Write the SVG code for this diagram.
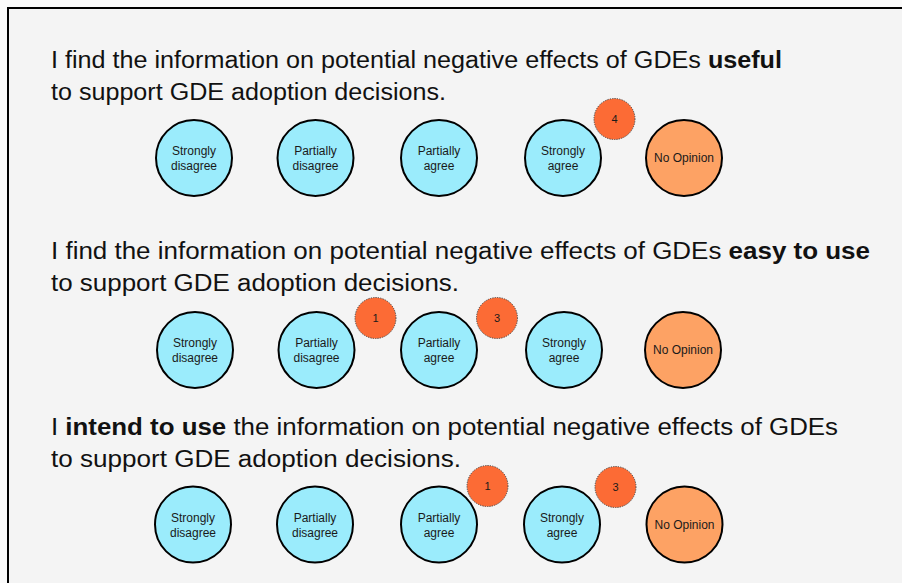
<svg xmlns="http://www.w3.org/2000/svg" width="902" height="583" viewBox="0 0 902 583">
<style>
.q{font-family:"Liberation Sans",Arial,sans-serif;font-size:23px;fill:#111}
.b{font-weight:bold}
.opt{fill:#9BECFC;stroke:#000;stroke-width:2}
.no{fill:#FDA264;stroke:#000;stroke-width:2}
.cnt{fill:#FC6B35;stroke:#444;stroke-width:1;stroke-dasharray:1.2 1.2}
.lbl{font-family:"Liberation Sans",Arial,sans-serif;font-size:12px;fill:#1a1a1a;text-anchor:middle}
.num{font-family:"Liberation Sans",Arial,sans-serif;font-size:11px;fill:#1a1a1a;text-anchor:middle}
</style>
<rect x="0" y="0" width="902" height="583" fill="#fafafa"/>
<rect x="8" y="8" width="900" height="590" fill="#f4f4f4" stroke="#000" stroke-width="2"/>

<g id="q1-text">
<text class="q" x="51" y="68" textLength="731" lengthAdjust="spacingAndGlyphs">I find the information on potential negative effects of GDEs <tspan class="b">useful</tspan></text>
<text class="q" x="51" y="100" textLength="395" lengthAdjust="spacingAndGlyphs">to support GDE adoption decisions.</text>
</g>
<g id="q1-strongly-disagree"><circle class="opt" cx="194" cy="158" r="38"/><text class="lbl" x="194" y="155">Strongly</text><text class="lbl" x="194" y="170">disagree</text></g>
<g id="q1-partially-disagree"><circle class="opt" cx="315.5" cy="158" r="38"/><text class="lbl" x="315.5" y="155">Partially</text><text class="lbl" x="315.5" y="170">disagree</text></g>
<g id="q1-partially-agree"><circle class="opt" cx="439" cy="158" r="38"/><text class="lbl" x="439" y="155">Partially</text><text class="lbl" x="439" y="170">agree</text></g>
<g id="q1-strongly-agree"><circle class="opt" cx="563" cy="158" r="38"/><text class="lbl" x="563" y="155">Strongly</text><text class="lbl" x="563" y="170">agree</text></g>
<g id="q1-no-opinion"><circle class="no" cx="684" cy="158" r="38"/><text class="lbl" x="684" y="162">No Opinion</text></g>
<g id="q1-count-4"><circle class="cnt" cx="614.5" cy="119" r="20.5"/><text class="num" x="614.5" y="123">4</text></g>

<g id="q2-text">
<text class="q" x="51" y="259" textLength="819" lengthAdjust="spacingAndGlyphs">I find the information on potential negative effects of GDEs <tspan class="b">easy to use</tspan></text>
<text class="q" x="51" y="291" textLength="408" lengthAdjust="spacingAndGlyphs">to support GDE adoption decisions.</text>
</g>
<g id="q2-strongly-disagree"><circle class="opt" cx="195" cy="350" r="38"/><text class="lbl" x="195" y="347">Strongly</text><text class="lbl" x="195" y="362">disagree</text></g>
<g id="q2-partially-disagree"><circle class="opt" cx="316.5" cy="350" r="38"/><text class="lbl" x="316.5" y="347">Partially</text><text class="lbl" x="316.5" y="362">disagree</text></g>
<g id="q2-partially-agree"><circle class="opt" cx="439" cy="350" r="38"/><text class="lbl" x="439" y="347">Partially</text><text class="lbl" x="439" y="362">agree</text></g>
<g id="q2-strongly-agree"><circle class="opt" cx="564" cy="350" r="38"/><text class="lbl" x="564" y="347">Strongly</text><text class="lbl" x="564" y="362">agree</text></g>
<g id="q2-no-opinion"><circle class="no" cx="683" cy="350" r="38"/><text class="lbl" x="683" y="354">No Opinion</text></g>
<g id="q2-count-1"><circle class="cnt" cx="375.5" cy="318" r="20.5"/><text class="num" x="375.5" y="322">1</text></g>
<g id="q2-count-3"><circle class="cnt" cx="497" cy="318" r="20.5"/><text class="num" x="497" y="322">3</text></g>

<g id="q3-text">
<text class="q" x="51" y="435" textLength="787" lengthAdjust="spacingAndGlyphs">I <tspan class="b">intend to use</tspan> the information on potential negative effects of GDEs</text>
<text class="q" x="51" y="467" textLength="410" lengthAdjust="spacingAndGlyphs">to support GDE adoption decisions.</text>
</g>
<g id="q3-strongly-disagree"><circle class="opt" cx="193" cy="524.5" r="38"/><text class="lbl" x="193" y="521.5">Strongly</text><text class="lbl" x="193" y="536.5">disagree</text></g>
<g id="q3-partially-disagree"><circle class="opt" cx="315" cy="524.5" r="38"/><text class="lbl" x="315" y="521.5">Partially</text><text class="lbl" x="315" y="536.5">disagree</text></g>
<g id="q3-partially-agree"><circle class="opt" cx="439" cy="524.5" r="38"/><text class="lbl" x="439" y="521.5">Partially</text><text class="lbl" x="439" y="536.5">agree</text></g>
<g id="q3-strongly-agree"><circle class="opt" cx="562" cy="524.5" r="38"/><text class="lbl" x="562" y="521.5">Strongly</text><text class="lbl" x="562" y="536.5">agree</text></g>
<g id="q3-no-opinion"><circle class="no" cx="684.5" cy="524.5" r="38"/><text class="lbl" x="684.5" y="528.5">No Opinion</text></g>
<g id="q3-count-1"><circle class="cnt" cx="487.5" cy="486" r="20.5"/><text class="num" x="487.5" y="490">1</text></g>
<g id="q3-count-3"><circle class="cnt" cx="615.5" cy="487" r="20.5"/><text class="num" x="615.5" y="491">3</text></g>
</svg>
